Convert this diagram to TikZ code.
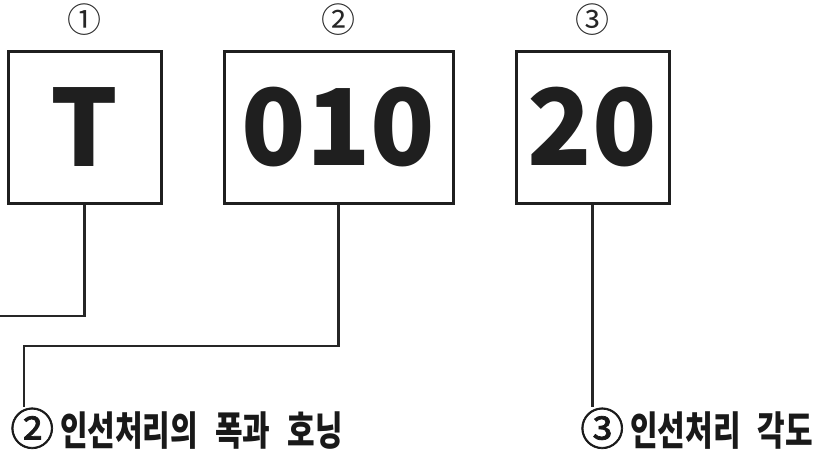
\documentclass[tikz,border=0pt]{standalone}
\usepackage{fontspec}
\setmainfont{Noto Sans CJK KR}
\newfontfamily\kr{Noto Sans CJK KR}
\newfontfamily\krm[FakeBold=1.6]{Noto Sans CJK KR}
\newfontfamily\krc[FakeStretch=0.75,WordSpace=2.5]{Noto Sans CJK KR}
\newcommand{\capcirc}[1]{{\krm\mdseries\fontsize{44}{44}\selectfont #1}}
\begin{document}
\begin{tikzpicture}[x=1pt,y=-1pt,
  codebox/.style={draw=black!88, line width=3pt, inner sep=0pt, minimum height=152pt,
    font=\kr\bfseries\fontsize{106}{106}\selectfont, text=black!88},
  numlabel/.style={font=\kr\fontsize{34}{34}\selectfont, text=black!85},
  caption/.style={font=\krc\bfseries\fontsize{40}{40}\selectfont, text=black!90, inner sep=0pt, anchor=base west},
  conn/.style={draw=black!85, line width=2.6pt}]
\useasboundingbox (0,0) rectangle (815,455);
\node[codebox, minimum width=153pt] (t) at (84.5,127) {T};
\node[codebox, minimum width=229pt] (m) at (338.5,127) {010};
\node[codebox, minimum width=153pt] (n) at (592.5,127) {20};
\node[numlabel] (l1) at (84.5,20) {①};
\node[numlabel] (l2) at (338.5,20) {②};
\node[numlabel] (l3) at (592.5,20) {③};
\coordinate (e1) at (0,316);
\coordinate (k2) at (24,346);
\coordinate (e2) at (24,407);
\coordinate (e3) at (592.5,407);
\draw[conn] (t.south) |- (e1);
\draw[conn] (m.south) |- (k2) -- (e2);
\draw[conn] (n.south) -- (e3);
\node[caption] (c2) at (10,445) {\capcirc{②}\hspace{6pt}인선처리의 폭과 호닝};
\node[caption] (c3) at (580,445) {\capcirc{③}\hspace{6pt}인선처리 각도};
\end{tikzpicture}
\end{document}
